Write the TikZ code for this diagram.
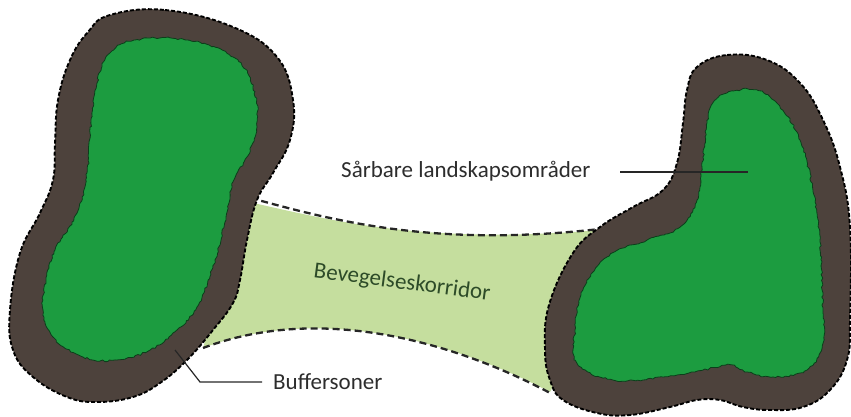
\documentclass[tikz,border=0pt]{standalone}
\usepackage{fontspec}
\setmainfont{Carlito}
\usetikzlibrary{decorations.pathmorphing}
\definecolor{buffer}{RGB}{77,66,60}
\definecolor{core}{RGB}{28,156,64}
\definecolor{corr}{RGB}{197,222,158}
\definecolor{corrtext}{RGB}{45,75,40}
\definecolor{labeltext}{RGB}{45,45,45}
\tikzset{
  bufferzone/.style={fill=buffer, draw=black, line width=1.9pt, dash pattern=on 4pt off 2pt},
  corezone/.style={fill=core, draw=black!60!core, line width=0.8pt,
    decorate, decoration={random steps, segment length=2.5pt, amplitude=0.9pt}},
  corredge/.style={draw=black!85, line width=2.3pt, dash pattern=on 7pt off 4pt},
  lbl/.style={font=\fontsize{23}{27}\selectfont, text=labeltext, inner sep=0pt},
  leader/.style={draw=black!85, line width=1.2pt}
}
\begin{document}
\begin{tikzpicture}[x=1pt,y=-1pt]
\useasboundingbox (0,0) rectangle (851,417);
\pgfmathsetseed{7}
% corridor
\fill[corr] (240,200) .. controls (330,220) and (420,245) .. (600,230)
  -- (600,300) -- (550,392) .. controls (470,350) and (330,300) .. (203,348) -- (230,260) -- cycle;
\draw[corredge] (240,195) .. controls (330,220) and (430,248) .. (600,229);
\draw[corredge] (203,348) .. controls (330,300) and (470,350) .. (552,394);
% left blob
\draw[bufferzone] plot[smooth cycle, tension=0.7] coordinates {
  (110,15) (165,10) (233,27) (277,57) (293,100) (290,140) (273,173) (257,200)
  (247,240) (240,280) (233,303) (213,330) (187,360) (160,383) (133,397) (97,402)
  (67,397) (33,377) (13,350) (10,310) (20,253) (40,213) (53,180) (55,143)
  (58,100) (70,60) (88,32)};
\draw[corezone] plot[smooth cycle, tension=0.7] coordinates {
  (135,40) (187,40) (233,57) (253,87) (257,127) (247,157) (233,182)
  (226,217) (213,267) (197,307) (177,330) (150,350) (117,360) (83,357)
  (53,337) (43,310) (46,280) (55,250) (77,213) (87,173) (90,133) (97,83) (110,53)};
% right blob
\draw[bufferzone] plot[smooth cycle, tension=0.7] coordinates {
  (697,67) (727,55) (767,60) (800,83) (823,120) (840,167) (850,227) (850,320)
  (847,360) (830,390) (803,407) (770,410) (743,407) (720,400) (697,400)
  (670,407) (630,415) (597,413) (563,400) (550,380) (545,350) (549,305)
  (573,253) (600,227) (633,207) (663,190) (677,163) (683,123) (687,90)};
\draw[corezone] plot[smooth cycle, tension=0.7] coordinates {
  (727,93) (757,90) (780,107) (800,140) (813,190) (820,240) (823,310)
  (823,343) (807,370) (773,377) (747,372) (730,365) (703,370) (663,377) (613,380)
  (577,363) (575,330) (583,290) (607,257) (647,240) (680,227) (697,200)
  (703,157) (707,123) (713,103)};
% labels
\node[lbl, anchor=base west] (sar) at (341,177) {Sårbare landskapsområder};
\coordinate (sarpt) at (748,172);
\draw[leader] (620,172) -- (sarpt);
\node[lbl, anchor=base west] (buf) at (273,389) {Buffersoner};
\coordinate (bufpt) at (175,350);
\coordinate (bufbend) at (200,382);
\draw[leader] (bufpt) -- (bufbend) -- (262,382);
\node[lbl, text=corrtext, rotate=-7.5] (corrlbl) at (402,283) {Bevegelseskorridor};
\end{tikzpicture}
\end{document}
